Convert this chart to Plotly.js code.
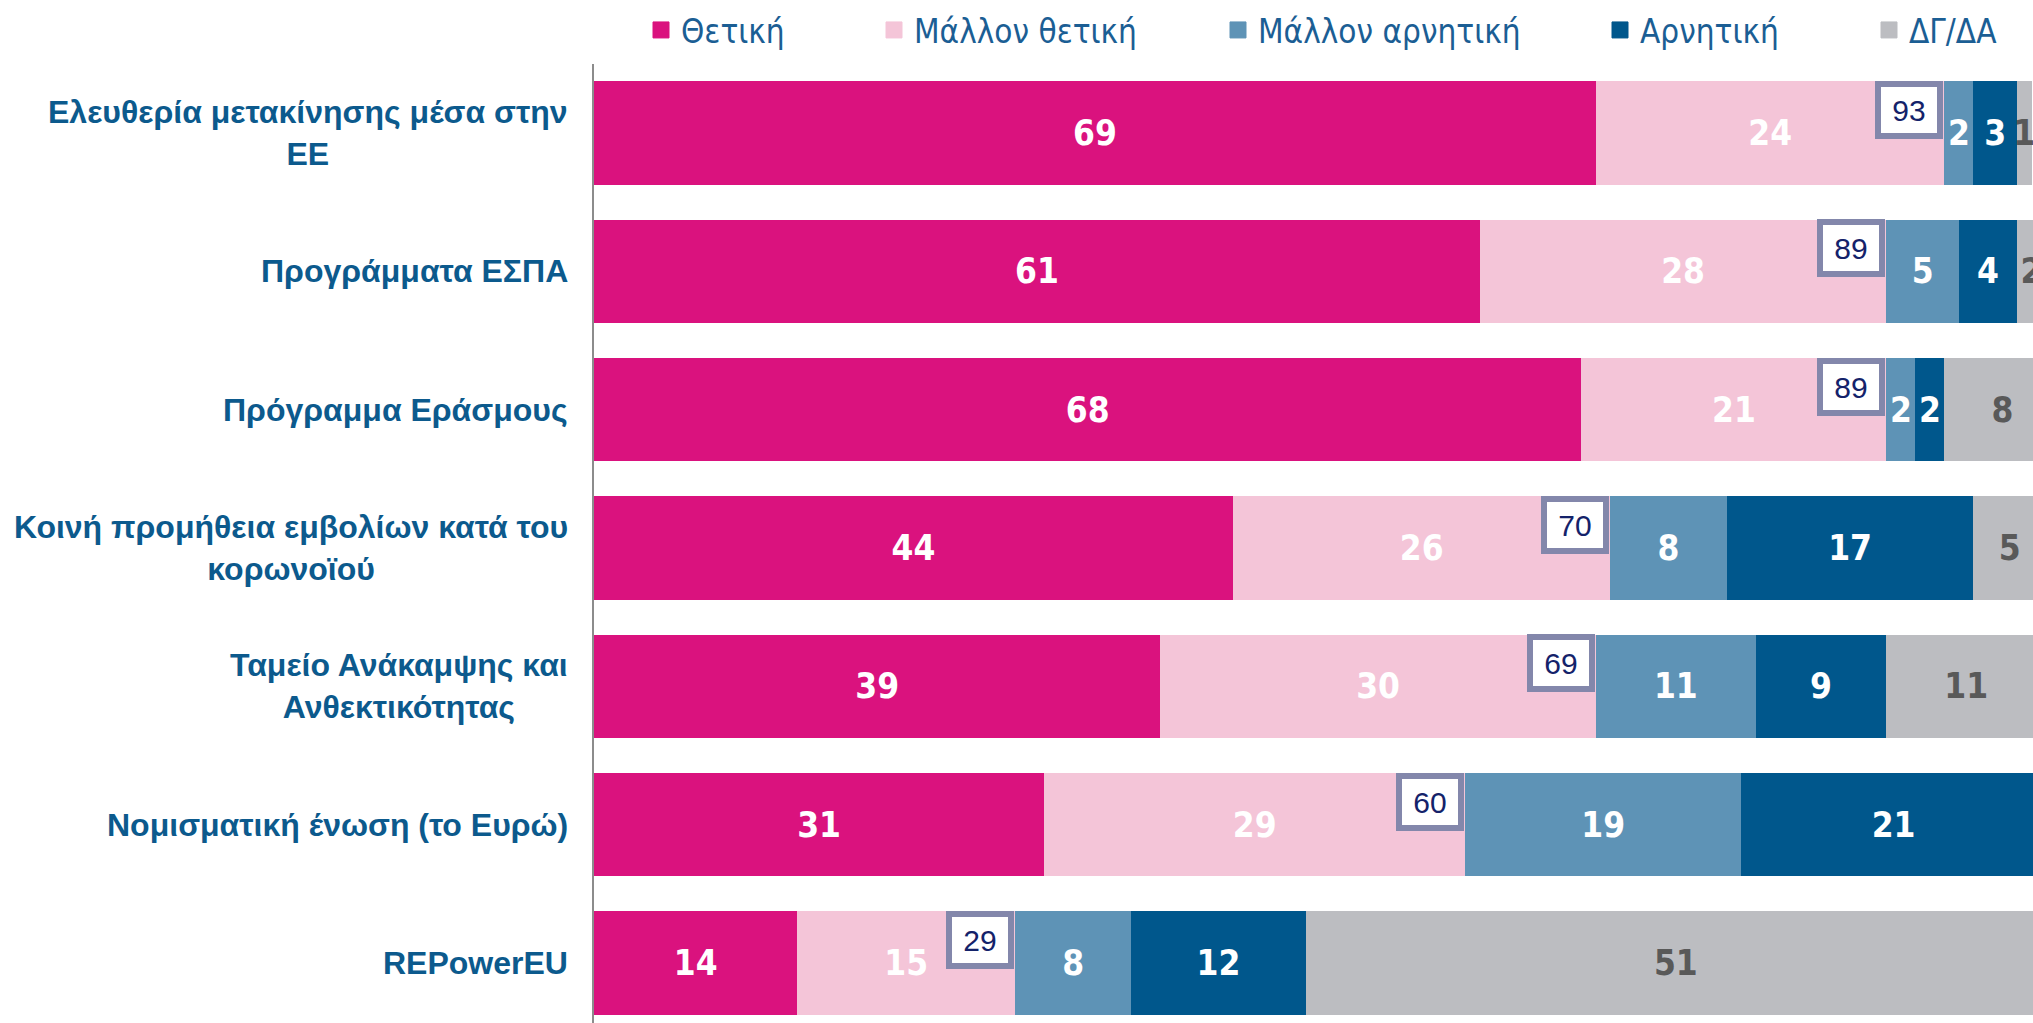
<!DOCTYPE html>
<html><head><meta charset="utf-8">
<script src="https://cdn.plot.ly/plotly-3.0.1.min.js"></script>
<style>html,body{margin:0;padding:0;background:#fff;overflow:hidden}</style>
</head><body><div id="chart" style="width:2033px;height:1023px"></div>
<script>
const categories = ["Ελευθερία μετακίνησης μέσα στην<br>ΕΕ", "Προγράμματα ΕΣΠΑ", "Πρόγραμμα Εράσμους", "Κοινή προμήθεια εμβολίων κατά του<br>κορωνοϊού", "Ταμείο Ανάκαμψης και<br>Ανθεκτικότητας", "Νομισματική ένωση (το Ευρώ)", "REPowerEU"];
const seriesNames = ["Θετική", "Μάλλον θετική", "Μάλλον αρνητική", "Αρνητική", "ΔΓ/ΔΑ"];
const positive = [69, 61, 68, 44, 39, 31, 14];
const ratherPositive = [24, 28, 21, 26, 30, 29, 15];
const ratherNegative = [2, 5, 2, 8, 11, 19, 8];
const negative = [3, 4, 2, 17, 9, 21, 12];
const dkna = [1, 2, 8, 5, 11, 1, 51];
const totals = [93, 89, 89, 70, 69, 60, 29];

const seriesValues = [positive, ratherPositive, ratherNegative, negative, dkna];
const colors = ["#DA127E", "#F4C5D8", "#5E93B6", "#00578C", "#BCBDC1"];
const labelColors = ["#FFFFFF", "#FFFFFF", "#FFFFFF", "#FFFFFF", "#595959"];
const narrow = "'Liberation Sans Narrow', 'Arial Narrow', 'DejaVu Sans Condensed', sans-serif";
const sans = "'Liberation Sans', Arial, sans-serif";
const blue = "#0C5A8D";

const W = 2033, H = 1023, L = 594, T = 64;
const plotW = W - L, plotH = H - T;
const legendPx = [641, 874, 1218, 1600, 1869];
const legendId = k => (k === 0 ? 'legend' : 'legend' + (k + 1));

const traces = seriesValues.map((vals, k) => ({
  type: 'bar', orientation: 'h', name: seriesNames[k],
  y: categories, x: vals,
  marker: {color: colors[k], line: {width: 0}},
  texttemplate: '%{x}', textposition: 'inside', insidetextanchor: 'middle',
  textangle: 0, constraintext: 'none', cliponaxis: true,
  textfont: {family: narrow, size: 35, color: labelColors[k], weight: 'bold'},
  hoverinfo: 'skip', showlegend: false, legendgroup: 'g' + k
}));

// legend entries (larger square swatches, as in the reference)
seriesNames.forEach((n, k) => {
  traces.push({
    type: 'scatter', mode: 'markers', name: n, x: [null], y: [null],
    marker: {symbol: 'square', size: 16, color: colors[k], line: {color: colors[k], width: 1}},
    hoverinfo: 'skip', showlegend: true, legendgroup: 'g' + k,
    legend: legendId(k)
  });
});

const layout = {
  width: W, height: H,
  margin: {l: L, r: 0, t: T, b: 0, pad: 0},
  paper_bgcolor: '#fff', plot_bgcolor: '#fff',
  barmode: 'stack', bargap: 0.252,
  showlegend: true,
  xaxis: {range: [0, 99.1], showgrid: false, zeroline: false, showticklabels: false, showline: false, fixedrange: true},
  yaxis: {type: 'category', categoryorder: 'array', categoryarray: categories,
          range: [6.434, -0.5], showgrid: false, zeroline: false, showticklabels: false, ticks: '',
          showline: true, linecolor: '#8C8C8C', linewidth: 2, fixedrange: true},
  annotations: []
};

legendPx.forEach((px, k) => {
  layout[legendId(k)] = {
    x: (px - L) / plotW, xanchor: 'left', xref: 'paper',
    y: 1 + (T - 30) / plotH, yanchor: 'middle', yref: 'paper',
    orientation: 'h', bgcolor: 'rgba(0,0,0,0)', borderwidth: 0,
    font: {family: narrow, size: 33, color: '#1B5E94'},
    itemclick: false, itemdoubleclick: false
  };
});

categories.forEach((c, i) => {
  layout.annotations.push({
    xref: 'paper', x: 0, xanchor: 'right', xshift: -24,
    yref: 'y', y: c, yanchor: 'middle',
    text: '<b>' + c + '</b>', showarrow: false, align: 'center',
    font: {family: sans, size: 32, color: blue}
  });
  layout.annotations.push({
    xref: 'x', x: positive[i] + ratherPositive[i], xanchor: 'right', xshift: -1,
    yref: 'y', y: c, yanchor: 'middle', yshift: 23,
    text: String(totals[i]), showarrow: false,
    width: 56, height: 46, borderpad: 0, borderwidth: 6,
    bordercolor: '#8387AB', bgcolor: '#FFFFFF',
    font: {family: sans, size: 30, color: '#14226A'}
  });
});

Plotly.newPlot('chart', traces, layout, {displayModeBar: false, staticPlot: true});
</script>
</body></html>
